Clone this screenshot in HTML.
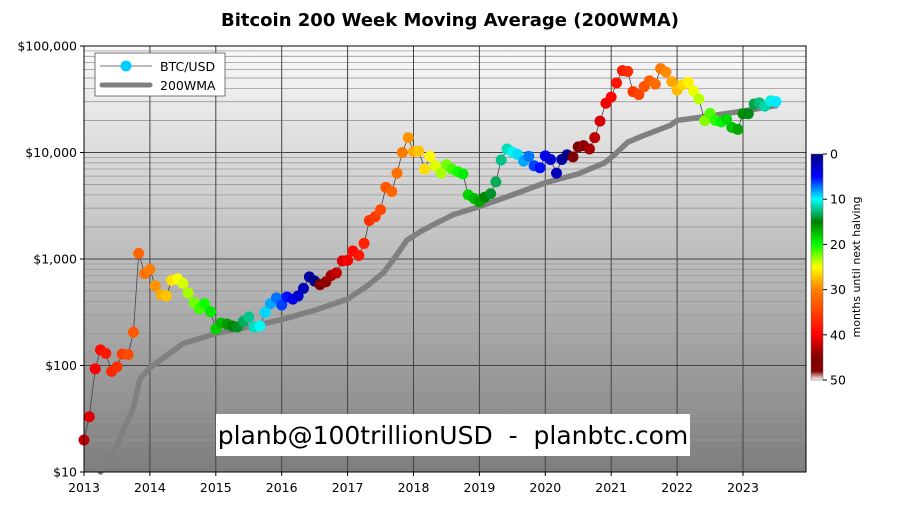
<!DOCTYPE html>
<html><head><meta charset="utf-8"><style>
body{margin:0;background:#fff;font-family:"DejaVu Sans","Liberation Sans",sans-serif;}
svg text{font-family:"DejaVu Sans","Liberation Sans",sans-serif;}
</style></head><body>
<svg id="c" width="900" height="506" xmlns="http://www.w3.org/2000/svg">
<defs>
<linearGradient id="bg" x1="0" y1="0" x2="0" y2="1"><stop offset="0" stop-color="#fafafa"/><stop offset="1" stop-color="#7e7e7e"/></linearGradient>
<linearGradient id="cb" x1="0" y1="0" x2="0" y2="1">
<stop offset="0" stop-color="#00007f"/><stop offset="0.1" stop-color="#0000ff"/><stop offset="0.2" stop-color="#00ffff"/><stop offset="0.3" stop-color="#008000"/><stop offset="0.4" stop-color="#00ff00"/><stop offset="0.5" stop-color="#ffff00"/><stop offset="0.6" stop-color="#ff8000"/><stop offset="0.8" stop-color="#ff0000"/><stop offset="0.9" stop-color="#800000"/><stop offset="0.96" stop-color="#800000"/><stop offset="1" stop-color="#ffffff"/></linearGradient>
</defs>
<text x="450" y="26" text-anchor="middle" font-size="18" font-weight="bold">Bitcoin 200 Week Moving Average (200WMA)</text>
<rect x="84" y="46" width="722" height="426" fill="url(#bg)"/>
<g id="grid"></g>
<g id="wma"></g>
<g id="btc"></g>
<rect x="84" y="46" width="722" height="426" fill="none" stroke="#000" stroke-width="1"/>
<g id="axes"></g>
<g>
<rect x="95" y="53" width="130" height="43" fill="#fff" stroke="#555" stroke-width="0.8"/>
<line x1="100" y1="66" x2="152" y2="66" stroke="#777" stroke-width="1"/>
<circle cx="126" cy="66" r="5.5" fill="#00ccff"/>
<text x="160" y="71" font-size="12.5">BTC/USD</text>
<line x1="102" y1="85" x2="150" y2="85" stroke="#808080" stroke-width="5" stroke-linecap="round"/>
<text x="160" y="90" font-size="12.5">200WMA</text>
</g>
<g>
<rect x="216" y="414" width="474" height="42" fill="#fff"/>
<text x="453" y="444" text-anchor="middle" font-size="25" style="white-space:pre">planb@100trillionUSD  -  planbtc.com</text>
</g>
<g>
<rect x="811" y="154" width="12" height="226" fill="url(#cb)" stroke="#666" stroke-width="0.5"/>
<g id="cbt"></g>
<text transform="translate(860,267) rotate(-90)" text-anchor="middle" font-size="11">months until next halving</text>
</g>
</svg>
<script>
const years=[2013,2014,2015,2016,2017,2018,2019,2020,2021,2022,2023];
const yTicks=[10,100,1000,10000,100000];
const yTickLabels=["$10","$100","$1,000","$10,000","$100,000"];
const btcDates=[2013.0,2013.08,2013.17,2013.25,2013.33,2013.42,2013.5,2013.58,2013.67,2013.75,2013.83,2013.92,2014.0,2014.08,2014.17,2014.25,2014.33,2014.42,2014.5,2014.58,2014.67,2014.75,2014.83,2014.92,2015.0,2015.08,2015.17,2015.25,2015.33,2015.42,2015.5,2015.58,2015.67,2015.75,2015.83,2015.92,2016.0,2016.08,2016.17,2016.25,2016.33,2016.42,2016.5,2016.58,2016.67,2016.75,2016.83,2016.92,2017.0,2017.08,2017.17,2017.25,2017.33,2017.42,2017.5,2017.58,2017.67,2017.75,2017.83,2017.92,2018.0,2018.08,2018.17,2018.25,2018.33,2018.42,2018.5,2018.58,2018.67,2018.75,2018.83,2018.92,2019.0,2019.08,2019.17,2019.25,2019.33,2019.42,2019.5,2019.58,2019.67,2019.75,2019.83,2019.92,2020.0,2020.08,2020.17,2020.25,2020.33,2020.42,2020.5,2020.58,2020.67,2020.75,2020.83,2020.92,2021.0,2021.08,2021.17,2021.25,2021.33,2021.42,2021.5,2021.58,2021.67,2021.75,2021.83,2021.92,2022.0,2022.08,2022.17,2022.25,2022.33,2022.42,2022.5,2022.58,2022.67,2022.75,2022.83,2022.92,2023.0,2023.08,2023.17,2023.25,2023.33,2023.42,2023.5];
const btcPrices=[20,33,93,140,130,88,97,128,127,205,1130,730,800,560,460,450,630,650,590,480,390,340,380,320,220,250,245,235,230,260,285,230,235,315,380,430,370,440,420,450,530,680,620,575,610,700,740,960,970,1190,1080,1400,2300,2500,2900,4700,4300,6400,10000,13800,10200,10300,7000,9200,7500,6400,7700,7000,6600,6300,4000,3700,3450,3800,4100,5300,8500,10800,10100,9600,8300,9200,7500,7200,9300,8600,6400,8600,9500,9100,11300,11600,10800,13800,19700,29000,33100,45000,58700,57700,37300,35000,41500,47100,43800,61300,57000,46300,38500,43200,45500,37700,31800,19900,23300,20000,19400,20500,17200,16500,23100,23100,28500,29200,27200,30500,30000];
const wmaDates=[2013.25,2013.45,2013.6,2013.75,2013.85,2014.0,2014.3,2014.5,2015.0,2015.5,2016.0,2016.5,2017.0,2017.3,2017.55,2017.75,2017.9,2018.1,2018.3,2018.6,2019.0,2019.5,2020.0,2020.5,2020.9,2021.05,2021.25,2021.5,2021.9,2022.0,2022.5,2023.0,2023.5];
const wmaValues=[10,15,25,40,75,95,130,160,200,230,270,330,420,560,750,1100,1500,1800,2100,2600,3100,4000,5200,6300,8000,9500,12500,14500,18000,20000,22000,24500,27500];
const halvings=[2012.91,2016.52,2020.36,2024.3];
const cbTicks=[0,10,20,30,40,50];

const X=t=>84+(t-2013)*65.9;
const Y=v=>472-(Math.log10(v)-1)*106.5;
const NS="http://www.w3.org/2000/svg";
function mk(tag,attrs,parent){const e=document.createElementNS(NS,tag);for(const k in attrs)e.setAttribute(k,attrs[k]);document.getElementById(parent).appendChild(e);return e;}
function jet(m){const s=[[0,[0,0,127]],[5,[0,0,255]],[10,[0,255,255]],[15,[0,128,0]],[20,[0,255,0]],[25,[255,255,0]],[30,[255,128,0]],[40,[255,0,0]],[45,[128,0,0]],[48,[128,0,0]],[50,[255,255,255]]];
m=Math.max(0,Math.min(50,m));for(let i=0;i<s.length-1;i++){if(m<=s[i+1][0]){const f=(m-s[i][0])/(s[i+1][0]-s[i][0]);const c=s[i][1].map((a,j)=>Math.round(a+(s[i+1][1][j]-a)*f));return `rgb(${c})`;}}return "#fff";}
for(let d=1;d<5;d++){for(let k=1;k<10;k++){const v=Math.pow(10,d)*k;const y=Y(v);
const l=mk('line',{x1:84,x2:806,y1:y,y2:y,stroke:k==1?'#444':'#999','stroke-width':k==1?1:0.8},'grid');

}}
years.forEach(yr=>{const x=X(yr);
const l=mk('line',{x1:x,x2:x,y1:46,y2:472,stroke:'#444','stroke-width':1},'grid');


mk('line',{x1:x,x2:x,y1:472,y2:476,stroke:'#000'},'axes');
const t=mk('text',{x:x,y:492,'text-anchor':'middle','font-size':12.5},'axes');t.textContent=yr;

});
yTicks.forEach((v,i)=>{const y=Y(v);mk('line',{x1:80,x2:84,y1:y,y2:y,stroke:'#000'},'axes');
const t=mk('text',{x:77,y:y+4.5,'text-anchor':'end','font-size':12.5},'axes');t.textContent=yTickLabels[i];

});
const p=mk('polyline',{points:wmaDates.map((d,i)=>X(d)+','+Y(wmaValues[i])).join(' '),fill:'none',stroke:'#808080','stroke-width':5.5,'stroke-linejoin':'round','stroke-linecap':'round'},'wma');


const bl=mk('polyline',{points:btcDates.map((d,i)=>X(d)+','+Y(btcPrices[i])).join(' '),fill:'none',stroke:'#444','stroke-width':0.8},'btc');


btcDates.forEach((d,i)=>{const h=halvings.find(h=>h>d);const m=(h-d)*12;
const c=mk('circle',{cx:X(d),cy:Y(btcPrices[i]),r:5.5,fill:jet(m)},'btc');

});
cbTicks.forEach(v=>{const y=154+v/50*226;mk('line',{x1:823,x2:827,y1:y,y2:y,stroke:'#000'},'cbt');
const t=mk('text',{x:830,y:y+4.5,'font-size':12.5},'cbt');t.textContent=v;

});
</script>
</body></html>
